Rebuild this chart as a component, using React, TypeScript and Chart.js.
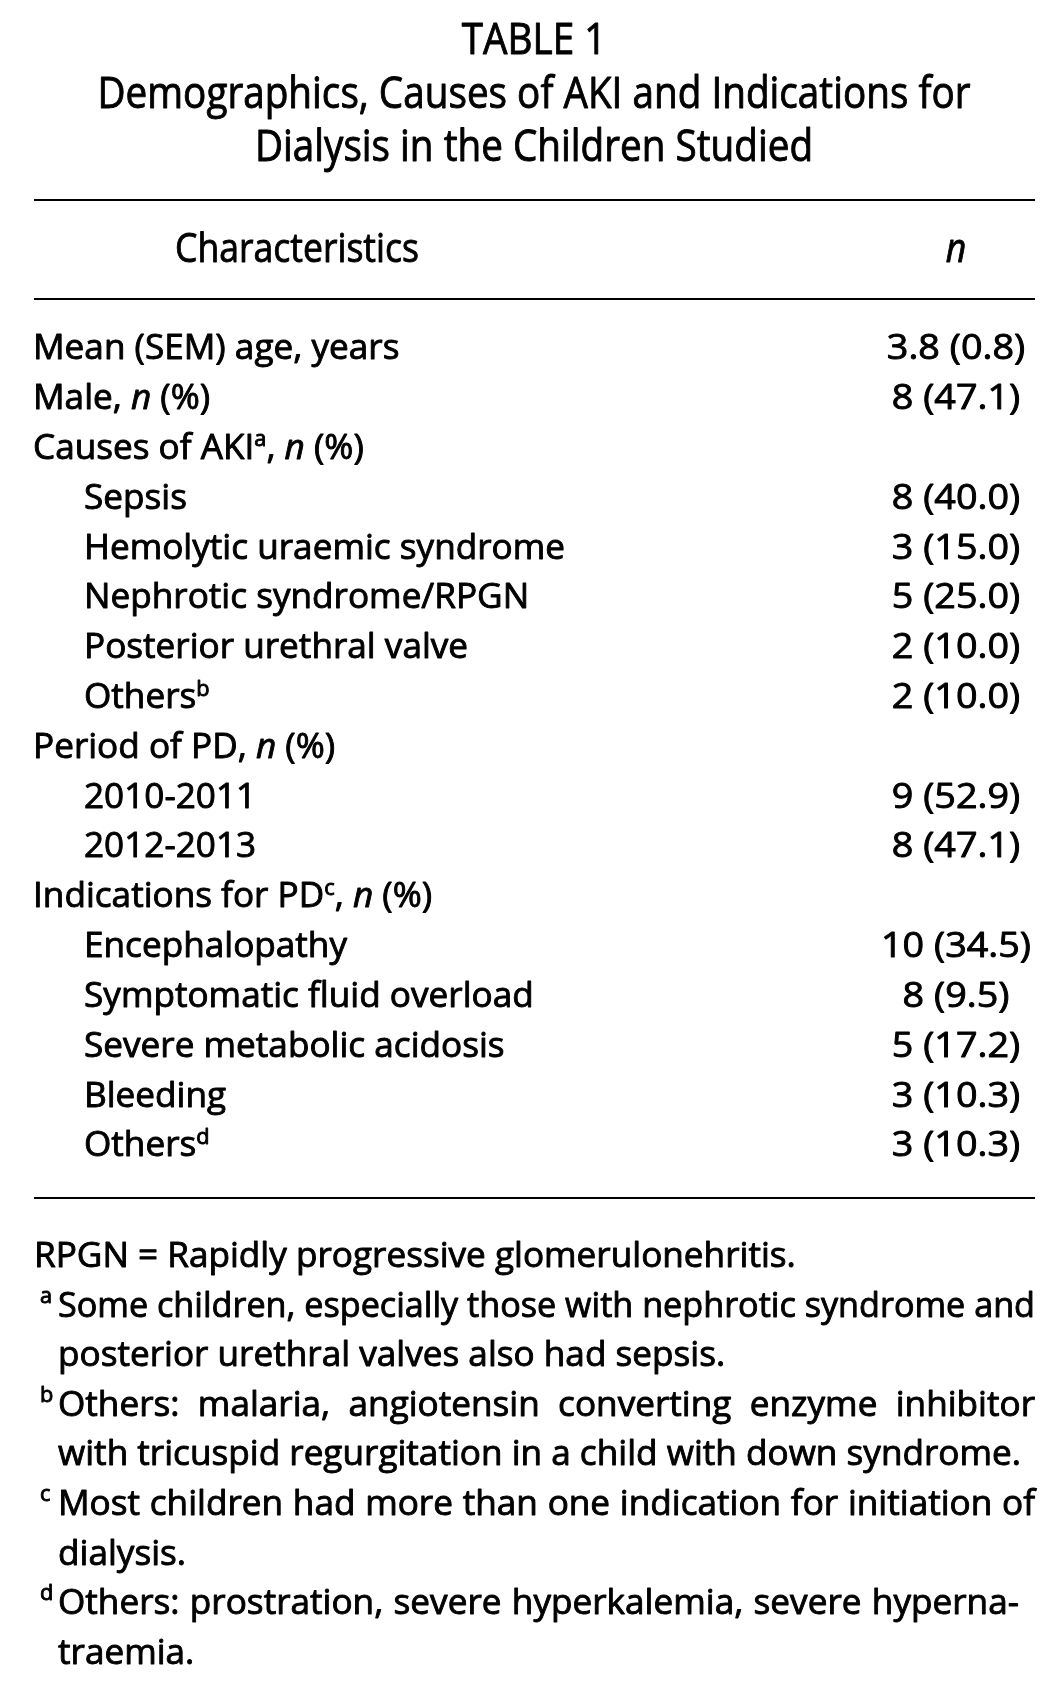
import React, { useEffect, useRef } from 'react';
import { Chart, registerables } from 'chart.js';

Chart.register(...registerables);

// ---------- DATA ----------
const titleLines = [
  'TABLE 1',
  'Demographics, Causes of AKI and Indications for',
  'Dialysis in the Children Studied',
];
const headerLabels = ['Characteristics', '*n*'];
const rowLabels = [
  'Mean (SEM) age, years',
  'Male, *n* (%)',
  'Causes of AKI^a^, *n* (%)',
  'Sepsis',
  'Hemolytic uraemic syndrome',
  'Nephrotic syndrome/RPGN',
  'Posterior urethral valve',
  'Others^b^',
  'Period of PD, *n* (%)',
  '2010-2011',
  '2012-2013',
  'Indications for PD^c^, *n* (%)',
  'Encephalopathy',
  'Symptomatic fluid overload',
  'Severe metabolic acidosis',
  'Bleeding',
  'Others^d^',
];
const rowLevels = [0, 0, 0, 1, 1, 1, 1, 1, 0, 1, 1, 0, 1, 1, 1, 1, 1];
const rowValues = [
  '3.8 (0.8)', '8 (47.1)', '', '8 (40.0)', '3 (15.0)', '5 (25.0)', '2 (10.0)', '2 (10.0)',
  '', '9 (52.9)', '8 (47.1)', '', '10 (34.5)', '8 (9.5)', '5 (17.2)', '3 (10.3)', '3 (10.3)',
];
const footnoteMarks = ['', 'a', '', 'b', '', 'c', '', 'd', ''];
const footnoteLines = [
  'RPGN = Rapidly progressive glomerulonehritis.',
  'Some children, especially those with nephrotic syndrome and',
  'posterior urethral valves also had sepsis.',
  'Others: malaria, angiotensin converting enzyme inhibitor',
  'with tricuspid regurgitation in a child with down syndrome.',
  'Most children had more than one indication for initiation of',
  'dialysis.',
  'Others: prostration, severe hyperkalemia, severe hyperna-',
  'traemia.',
];
const footnoteJustify = [false, true, false, true, false, true, false, true, false];

// ---------- LAYOUT / STYLE ----------
const FONT = '"Open Sans", "Noto Sans", sans-serif';
const WEIGHT = 400;
const STROKE = 0.9;
const L = {
  titleSize: 43,
  titleCenter: 534,
  titleBaselines: [54, 108, 161],
  titleRefWidth: 873,
  headerSize: 40,
  headerBaseline: 262,
  headerCenterLeft: 297,
  headerRefWidth: 244,
  bodySize: 34.5,
  bodyRefText: 'Hemolytic uraemic syndrome',
  bodyRefWidth: 481,
  valueRefText: '10 (34.5)',
  valueRefWidth: 150,
  valueCenter: 956,
  indentX: [33, 84],
  rules: [200, 299, 1198],
  ruleLeft: 34,
  ruleRight: 1035,
  ruleWidth: 2.2,
  footBaseline0: 1267,
  footStep: 49.6,
  footX: 34,
  footMarkX: 40,
  footTextX: 58,
  footRight: 1035,
  hyphenRight: 1019,
};

type Seg = { t: string; kind: 'n' | 'i' | 's' };
function parse(s: string): Seg[] {
  const out: Seg[] = [];
  const re = /(\*[^*]+\*|\^[^^]+\^)/g;
  let last = 0;
  let m: RegExpExecArray | null;
  while ((m = re.exec(s))) {
    if (m.index > last) out.push({ t: s.slice(last, m.index), kind: 'n' });
    const tok = m[0];
    out.push({ t: tok.slice(1, -1), kind: tok[0] === '*' ? 'i' : 's' });
    last = m.index + tok.length;
  }
  if (last < s.length) out.push({ t: s.slice(last), kind: 'n' });
  return out;
}

function segFont(kind: string, size: number) {
  if (kind === 'i') return `italic ${WEIGHT} ${size}px ${FONT}`;
  if (kind === 's') return `${WEIGHT} ${size * 0.62}px ${FONT}`;
  return `${WEIGHT} ${size}px ${FONT}`;
}

function paintText(ctx: CanvasRenderingContext2D, t: string) {
  ctx.fillText(t, 0, 0);
  ctx.strokeText(t, 0, 0);
}

function richWidth(ctx: CanvasRenderingContext2D, s: string, size: number, k: number) {
  let w = 0;
  for (const seg of parse(s)) {
    ctx.font = segFont(seg.kind, size);
    w += ctx.measureText(seg.t).width * k;
  }
  return w;
}

function drawRich(ctx: CanvasRenderingContext2D, s: string, x: number, y: number, size: number, k: number) {
  let cx = x;
  for (const seg of parse(s)) {
    ctx.font = segFont(seg.kind, size);
    const dy = seg.kind === 's' ? -size * 0.36 : 0;
    ctx.save();
    ctx.translate(cx, y + dy);
    ctx.scale(k, 1);
    paintText(ctx, seg.t);
    ctx.restore();
    cx += ctx.measureText(seg.t).width * k;
  }
  return cx;
}

function drawJustified(ctx: CanvasRenderingContext2D, s: string, x: number, y: number, size: number, k: number, width: number) {
  ctx.font = segFont('n', size);
  const natural = ctx.measureText(s).width * k;
  if (natural >= width) {
    drawRich(ctx, s, x, y, size, (k * width) / natural);
    return;
  }
  const words = s.split(' ');
  const ww = words.map((w) => ctx.measureText(w).width * k);
  const total = ww.reduce((a, b) => a + b, 0);
  const gap = (width - total) / (words.length - 1);
  let cx = x;
  words.forEach((w, i) => {
    drawRich(ctx, w, cx, y, size, k);
    cx += ww[i] + gap;
  });
}

const tablePlugin = {
  id: 'tableText',
  afterDraw(chart: any) {
    const ctx: CanvasRenderingContext2D = chart.ctx;
    const yScale = chart.scales.y;
    ctx.save();
    ctx.fillStyle = '#000';
    ctx.strokeStyle = '#000';
    ctx.lineJoin = 'round';
    ctx.textBaseline = 'alphabetic';
    ctx.textAlign = 'left';

    // title
    ctx.lineWidth = STROKE;
    ctx.font = segFont('n', L.titleSize);
    const kTitle = L.titleRefWidth / ctx.measureText(titleLines[1]).width;
    titleLines.forEach((line, i) => {
      const w = richWidth(ctx, line, L.titleSize, kTitle);
      drawRich(ctx, line, L.titleCenter - w / 2, L.titleBaselines[i], L.titleSize, kTitle);
    });

    // rules
    ctx.lineWidth = L.ruleWidth;
    L.rules.forEach((ry) => {
      ctx.beginPath();
      ctx.moveTo(L.ruleLeft, ry);
      ctx.lineTo(L.ruleRight, ry);
      ctx.stroke();
    });
    ctx.lineWidth = STROKE;

    // header
    ctx.font = segFont('n', L.headerSize);
    const kHead = L.headerRefWidth / ctx.measureText(headerLabels[0]).width;
    const hw0 = richWidth(ctx, headerLabels[0], L.headerSize, kHead);
    drawRich(ctx, headerLabels[0], L.headerCenterLeft - hw0 / 2, L.headerBaseline, L.headerSize, kHead);
    const hw1 = richWidth(ctx, headerLabels[1], L.headerSize, kHead);
    drawRich(ctx, headerLabels[1], L.valueCenter - hw1 / 2, L.headerBaseline, L.headerSize, kHead);

    // body rows
    ctx.font = segFont('n', L.bodySize);
    const kBody = L.bodyRefWidth / ctx.measureText(L.bodyRefText).width;
    const kVal = L.valueRefWidth / ctx.measureText(L.valueRefText).width;
    const capHalf = L.bodySize * 0.357;
    rowLabels.forEach((label, i) => {
      const cy = yScale.getPixelForValue(i);
      const base = cy + capHalf;
      drawRich(ctx, label, L.indentX[rowLevels[i]], base, L.bodySize, kBody);
      const v = rowValues[i];
      if (v) {
        const w = richWidth(ctx, v, L.bodySize, kVal);
        drawRich(ctx, v, L.valueCenter - w / 2, base, L.bodySize, kVal);
      }
    });

    // footnotes
    footnoteLines.forEach((line, i) => {
      const base = L.footBaseline0 + i * L.footStep;
      const x = i === 0 ? L.footX : L.footTextX;
      if (footnoteMarks[i]) {
        ctx.font = segFont('s', L.bodySize);
        ctx.save();
        ctx.translate(L.footMarkX, base - L.bodySize * 0.4);
        ctx.scale(kBody, 1);
        paintText(ctx, footnoteMarks[i]);
        ctx.restore();
      }
      if (footnoteJustify[i]) {
        const right = line.endsWith('-') ? L.hyphenRight : L.footRight;
        drawJustified(ctx, line, x, base, L.bodySize, kBody, right - x);
      } else {
        drawRich(ctx, line, x, base, L.bodySize, kBody);
      }
    });

    ctx.restore();
  },
};

export default function App() {
  const ref = useRef<HTMLCanvasElement | null>(null);
  useEffect(() => {
    document.body.style.margin = '0';
    document.body.style.background = '#fff';
    const canvas = ref.current;
    if (!canvas) return;
    const chart = new Chart(canvas, {
      type: 'bar',
      data: {
        labels: rowLabels,
        datasets: [],
      },
      options: {
        responsive: false,
        maintainAspectRatio: false,
        animation: false,
        indexAxis: 'y',
        layout: { padding: { top: 322, bottom: 520, left: 34, right: 21 } },
        scales: {
          x: { display: false, min: 0, max: 10 },
          y: { display: false, offset: true },
        },
        plugins: { legend: { display: false }, tooltip: { enabled: false } },
      },
      plugins: [tablePlugin],
    } as any);
    return () => chart.destroy();
  }, []);
  return (
    <canvas
      ref={ref}
      width={1056}
      height={1689}
      style={{ display: 'block', width: 1056, height: 1689, background: '#fff' }}
    />
  );
}
